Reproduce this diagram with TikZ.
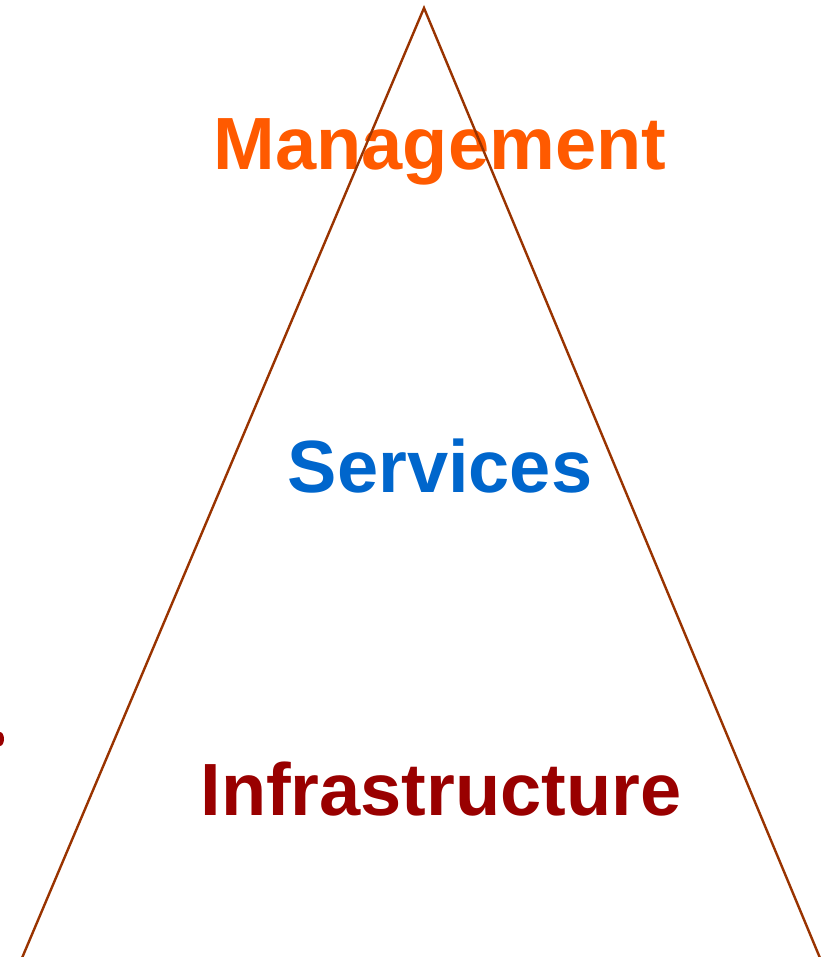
\documentclass[tikz,border=0pt]{standalone}
\usepackage{fontspec}
\setmainfont{Liberation Sans}
\definecolor{mgmtorange}{HTML}{FF5A00}
\definecolor{srvblue}{HTML}{0066CC}
\definecolor{infrared}{HTML}{990000}
\definecolor{edgebrown}{HTML}{993300}
\tikzset{
  layer/.style={font=\fontsize{74}{74}\selectfont\bfseries, inner sep=0pt, anchor=base},
}
\begin{document}
\begin{tikzpicture}[x=1pt, y=-1pt]
  \useasboundingbox (0,0) rectangle (821,957);
  \clip (0,0) rectangle (821,957);
  % --- layer labels ---
  \node[layer, text=mgmtorange] (mgmt) at (440,170) {Management};
  \node[layer, text=srvblue] (srv) at (440,492) {Services};
  \node[layer, text=infrared] (infra) at (441,815) {Infrastructure};
  % --- stray glyph cut off at the left edge ---
  \fill[infrared] (0,739) ellipse (4 and 7);
  % --- pyramid outline ---
  \coordinate (apex) at (424,8);
  \coordinate (baseL) at (22,958);
  \coordinate (baseR) at (820,958);
  \draw[edgebrown, line width=2.4pt, line join=miter] (baseL) -- (apex) -- (baseR);
\end{tikzpicture}
\end{document}
